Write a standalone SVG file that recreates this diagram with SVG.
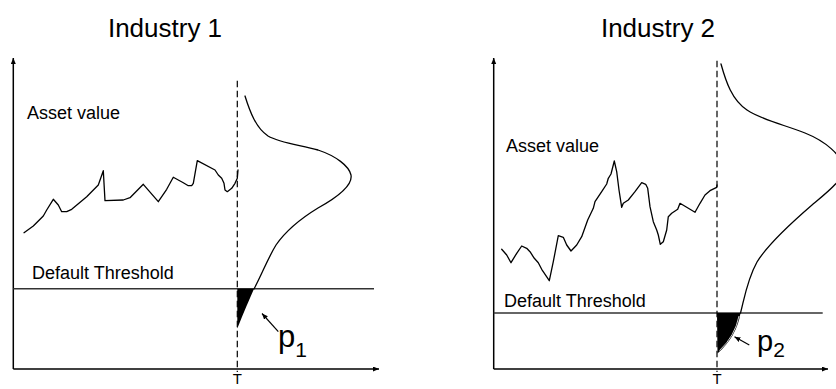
<svg xmlns="http://www.w3.org/2000/svg" width="836" height="389" viewBox="0 0 836 389">
<style>
.t{font-family:"Liberation Sans",Arial,sans-serif;fill:#000}
.title{font-size:26px;text-anchor:middle}
.lab{font-size:18px}
.tl{font-size:15px;text-anchor:middle}
.axis{stroke:#000;stroke-width:1.5;fill:none}
.thr{stroke:#333;stroke-width:1.5;fill:none}
.dash{stroke:#000;stroke-width:1.2;stroke-dasharray:6.5,3.5;fill:none}
.curve{stroke:#000;stroke-width:1.3;fill:none;stroke-linejoin:round;stroke-linecap:round}
.tail{fill:#000;stroke:none}
.ptr{stroke:#000;stroke-width:1.2;fill:none}
</style>
<defs>
<marker id="ah" markerUnits="userSpaceOnUse" markerWidth="7" markerHeight="6" refX="6" refY="2.5" orient="auto">
<path d="M0,0 L6,2.5 L0,5 z" fill="#000"/>
</marker>
</defs>
<rect width="836" height="389" fill="#fff"/>

<g id="panel1">
<text class="t title" x="165" y="37">Industry 1</text>
<line class="axis" x1="13.3" y1="369" x2="13.3" y2="58" marker-end="url(#ah)"/>
<line class="axis" x1="13.3" y1="369" x2="379" y2="369" marker-end="url(#ah)"/>
<text class="t lab" x="27" y="119">Asset value</text>
<text class="t lab" x="32" y="279">Default Threshold</text>
<line class="thr" x1="13.3" y1="288.8" x2="374" y2="288.8"/>
<line class="dash" x1="237.3" y1="80.7" x2="237.3" y2="372"/>
<polyline class="curve" points="24,232.7 33.3,226 43.3,216 46.7,210 53.3,199.3 58.3,205 61.7,211.7 66.7,211.7 71.7,209.3 86.7,196.7 98.3,185 103.3,170.7 105,200.7 123.3,200 130,197.7 143.3,184.3 158.3,201.7 166.7,189.3 173.3,177.3 183.3,182.7 188.3,185.7 191.7,185.7 193.3,183.3 197.3,160.7 215,170 218.3,175 221.7,178.3 224,183.3 225,190 227.3,191.7 231.7,188.3 235,183.3 237.3,178.3 238,170"/>
<path class="curve" d="M245,96 C250,112 256,128 268,136 C280,143 300,145 318,150 C336,156 349,166 351,175 C353,186 336,198 318,208 C300,219 285,232 276,245 C268,258 262,274 254,289"/>
<path class="tail" d="M237.3,288.8 L254,288.8 C250,298 244,312 237.3,328.5 Z"/>
<text class="t tl" x="237.3" y="384">T</text>
<text class="t" x="278" y="347" font-size="31">p<tspan font-size="21" dy="10">1</tspan></text>
</g>

<g id="panel2">
<text class="t title" x="658" y="37">Industry 2</text>
<line class="axis" x1="493.7" y1="369" x2="493.7" y2="58" marker-end="url(#ah)"/>
<line class="axis" x1="493.7" y1="369" x2="828" y2="369" marker-end="url(#ah)"/>
<text class="t lab" x="506" y="152">Asset value</text>
<text class="t lab" x="504" y="306.7">Default Threshold</text>
<line class="thr" x1="493.7" y1="313" x2="822.7" y2="313"/>
<line class="dash" x1="717" y1="60.7" x2="717" y2="372"/>
<polyline class="curve" points="501.7,249.3 506.7,255 511,262.7 516.7,253.3 521.7,246 526.7,248.3 530,251.7 534.3,258.3 538.3,262.7 541.7,269.3 549.3,280.7 553.3,261.7 558.3,235.7 563.3,237.3 566.7,245 571,251 576.7,245 581.7,236.7 587.7,220 593.3,208.3 595,201.7 601.7,191.7 606.7,184 608.3,178.3 611,174 614.3,161 616.7,171.7 619,190 621.7,207.3 623.3,203.3 628.3,200 635,191.7 641.7,182.7 645.7,184.3 647.7,188.3 650,206.7 653.3,221.7 656.7,230 658.3,235 660.3,244.3 663.3,241.7 666.7,230 668.3,216.7 671.7,213.3 677.7,209.3 680,203.3 686.7,207.3 695,212.3 700,203.3 705,195 710,190.7 716.7,187.3 717,185"/>
<path class="curve" d="M721,64 C726,82 732,100 747,110 C762,120 785,125 805,133 C825,141 842,155 843,168 C843,180 830,190 812,205 C790,224 768,244 757,262 C747,280 744,300 740.5,313"/>
<path class="tail" d="M717,313 L740.5,313 Q737,336 717.5,353.5 Z"/>
<path d="M739,316 Q735,336 719.5,350.5" stroke="#fff" stroke-width="0.8" fill="none"/>
<text class="t tl" x="717" y="384">T</text>
<text class="t" x="757" y="351" font-size="29">p<tspan font-size="21" dy="6">2</tspan></text>
</g>

<g id="connectors">
<line class="ptr" x1="278.3" y1="331.7" x2="262" y2="313.5" marker-end="url(#ah)"/>
<line class="ptr" x1="749.3" y1="345" x2="734.5" y2="336.8" marker-end="url(#ah)"/>
</g>
</svg>
